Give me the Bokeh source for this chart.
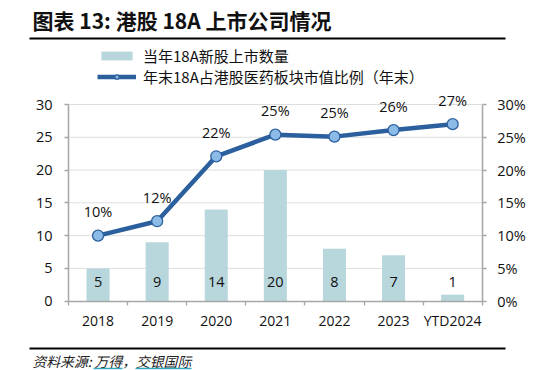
from bokeh.plotting import figure
from bokeh.models import (ColumnDataSource, Range1d, LinearAxis, FixedTicker,
                          PrintfTickFormatter, LabelSet, Label, BoxAnnotation,
                          Legend, LegendItem)
from bokeh.core.properties import value
from bokeh.embed import file_html
from bokeh.resources import INLINE
import numpy as np

# ---- data ----
categories = ["2018", "2019", "2020", "2021", "2022", "2023", "YTD2024"]
new_listings = [5, 9, 14, 20, 8, 7, 1]
mcap_share = [10.0, 12.2, 22.1, 25.4, 25.1, 26.1, 27.0]
left_ticks = [0, 5, 10, 15, 20, 25, 30]
right_ticks = [0, 5, 10, 15, 20, 25, 30]

title_text = "图表 13: 港股 18A 上市公司情况"
bar_name = "当年18A新股上市数量"
line_name = "年末18A占港股医药板块市值比例（年末）"
source_text = "资料来源: 万得，交银国际"

LATIN = "Open Sans"
CJK = "Noto Sans CJK SC"
BAR_C = "#b8d7dd"
LINE_C = "#2c5f9d"
MARK_C = "#8dbbe8"
AXIS_C = "#a6a6a6"
GRID_C = "#bdbdbd"
TXT_C = "#111111"
UL_C = "#3aa6c2"

# ---- layout (pixels on the 550x370 canvas; the frame fills the canvas) ----
W, H = 550, 370
AX_L, AX_R = 68.0, 481.7         # left / right axis lines
AX_Y0, AX_YTOP = 300.7, 104.0    # pixel rows of value 0 and of the axis top
AX_MAX = 30
n = len(categories)
ux = (AX_R - AX_L) / n
uy = (AX_Y0 - AX_YTOP) / AX_MAX
x_range = Range1d(-AX_L / ux, n + (W - AX_R) / ux)
y_range = Range1d(-(H - AX_Y0) / uy, AX_Y0 / uy)


def px_x(px):
    return (px - AX_L) / ux


def px_y(py):
    return (AX_Y0 - py) / uy


xs = np.arange(n) + 0.5
src = ColumnDataSource(dict(
    x=xs, n=new_listings, share=mcap_share,
    nlab=[str(v) for v in new_listings],
    slab=[f"{round(v)}%" for v in mcap_share],
    zero=[0] * n,
))

p = figure(width=W, height=H, output_backend="svg", toolbar_location=None,
           title=None, x_range=x_range, y_range=y_range,
           x_axis_type=None, y_axis_type=None,
           min_border=0, min_border_left=0, min_border_right=0,
           min_border_top=0, min_border_bottom=0, background_fill_color="white",
           border_fill_color="white", outline_line_color=None, margin=0)
p.extra_y_ranges = {"pct": Range1d(y_range.start, y_range.end)}
p.grid.visible = False

# ---- axes fixed at the data edges ----
xa = LinearAxis(fixed_location=0, bounds=(0, n),
                ticker=FixedTicker(ticks=list(xs), minor_ticks=list(range(n + 1))))
xa.major_label_overrides = {float(x): c for x, c in zip(xs, categories)}
xa.major_tick_out = 0
xa.major_tick_in = 0
xa.minor_tick_out = 4
xa.minor_tick_in = 0
xa.minor_tick_line_color = AXIS_C
xa.minor_tick_line_width = 1.3
xa.axis_line_color = AXIS_C
xa.axis_line_width = 1.5
xa.major_label_standoff = 6
xa.major_label_text_font = LATIN
xa.major_label_text_font_size = "14px"
xa.major_label_text_color = TXT_C
p.add_layout(xa, "below")

ya = LinearAxis(fixed_location=0, bounds=(0, AX_MAX), ticker=FixedTicker(ticks=left_ticks))
ya.minor_tick_line_color = None
ya.major_tick_out = 4
ya.major_tick_in = 0
ya.major_tick_line_color = AXIS_C
ya.major_tick_line_width = 1.3
ya.axis_line_color = AXIS_C
ya.axis_line_width = 1.5
ya.major_label_standoff = 12
ya.major_label_text_font = LATIN
ya.major_label_text_font_size = "14.5px"
ya.major_label_text_color = TXT_C
p.add_layout(ya, "left")

ry = LinearAxis(y_range_name="pct", fixed_location=n, bounds=(0, AX_MAX),
                ticker=FixedTicker(ticks=right_ticks),
                formatter=PrintfTickFormatter(format="%d%%"))
ry.minor_tick_line_color = None
ry.major_tick_out = 4
ry.major_tick_in = 0
ry.major_tick_line_color = AXIS_C
ry.major_tick_line_width = 1.3
ry.axis_line_color = AXIS_C
ry.axis_line_width = 1.5
ry.major_label_standoff = 11
ry.major_label_text_font = LATIN
ry.major_label_text_font_size = "14.5px"
ry.major_label_text_color = TXT_C
p.add_layout(ry, "right")

# dotted horizontal gridlines between the two axes
grid_src = ColumnDataSource(dict(y=left_ticks[1:], x0=[0] * (len(left_ticks) - 1),
                                 x1=[n] * (len(left_ticks) - 1)))
p.segment(x0="x0", x1="x1", y0="y", y1="y", source=grid_src, line_color=GRID_C,
          line_dash="1 1", line_width=1, level="underlay")

# bars
bars = p.vbar(x="x", top="n", width=0.39, source=src, fill_color=BAR_C, line_color=None)
# line
ln = p.line(x="x", y="share", source=src, y_range_name="pct", line_color=LINE_C,
            line_width=4.5, line_join="round")
mk = p.scatter(x="x", y="share", source=src, y_range_name="pct", size=11,
               fill_color=MARK_C, line_color=LINE_C, line_width=1.3)

p.add_layout(LabelSet(x="x", y="zero", text="nlab", source=src, y_offset=19,
                      text_align="center", text_baseline="middle", text_font=value(LATIN),
                      text_font_size=value("14.5px"), text_color=TXT_C))
p.add_layout(LabelSet(x="x", y="share", text="slab", source=src, y_range_name="pct",
                      y_offset=24, text_align="center", text_baseline="middle",
                      text_font=value(LATIN), text_font_size=value("14.5px"),
                      text_color=TXT_C))

# legend
legend = Legend(items=[LegendItem(label=bar_name, renderers=[bars]),
                       LegendItem(label=line_name, renderers=[ln, mk])],
                location=(97, H - 87), orientation="vertical",
                glyph_width=39, glyph_height=11, label_height=15, spacing=0,
                padding=0, margin=0, label_standoff=7,
                label_text_font=CJK, label_text_font_size="15px",
                label_text_color=TXT_C, background_fill_alpha=0,
                border_line_color=None)
p.add_layout(legend, "center")

# header / footer rules (page decorations, placed in pixel terms)
rules = ColumnDataSource(dict(x0=[px_x(29), px_x(29)], x1=[px_x(505), px_x(505)],
                              y=[px_y(38), px_y(348)]))
p.segment(x0="x0", x1="x1", y0="y", y1="y", source=rules, line_color="black",
          line_width=2, level="overlay")


def hbar(left, right, ymid_from_top, thick, color):
    yb = H - ymid_from_top
    p.add_layout(BoxAnnotation(left=left, right=right, bottom=yb - thick / 2,
                               top=yb + thick / 2, left_units="screen",
                               right_units="screen", bottom_units="screen",
                               top_units="screen", fill_color=color, fill_alpha=1,
                               line_color=None, line_alpha=0))


# header title
p.add_layout(Label(x=32, y=H - 19, x_units="screen", y_units="screen",
                   text=title_text, text_font=CJK, text_font_size="21px",
                   text_font_style="bold", text_color=TXT_C,
                   text_baseline="middle", text_align="left"))

# footer: source with underlined names
p.add_layout(Label(x=32, y=H - 360, x_units="screen", y_units="screen",
                   text=source_text, text_font=CJK, text_font_size="13.8px",
                   text_font_style="italic", text_color="#222222",
                   text_baseline="middle", text_align="left"))
hbar(93, 122, 368, 1.3, UL_C)
hbar(135, 191, 368, 1.3, UL_C)

open("out.html", "w").write(file_html(p, INLINE))
